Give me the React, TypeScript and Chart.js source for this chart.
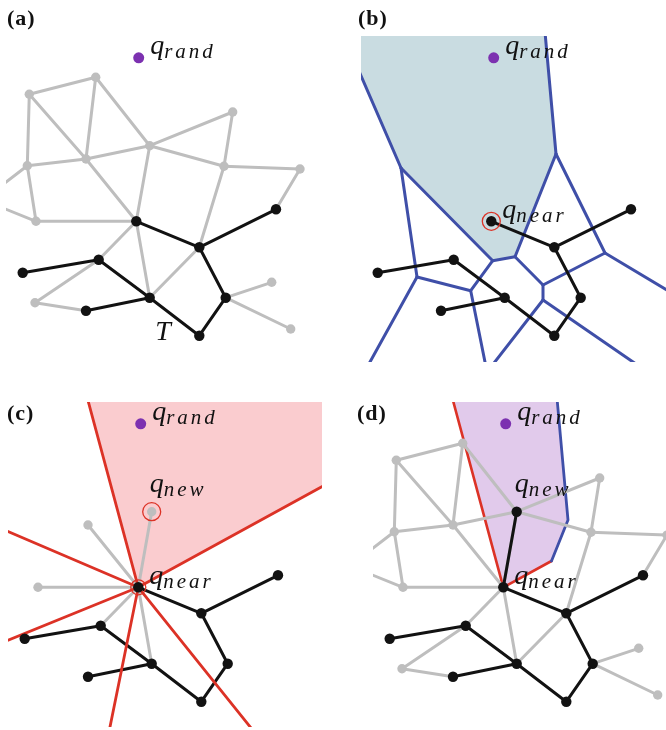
import React, { useEffect, useRef } from 'react';
import { Chart, registerables } from 'chart.js';

Chart.register(...registerables);

// ---------------- data (world frame = panel (a) pixels) ----------------
const roadmapIds = ['g0', 'g1', 'g2', 'g3', 'g4', 'g5', 'g6', 'g7', 'g8', 'g9', 'g10', 'g11', 'g12'];
const roadmapX = [95.7, 29.3, 232.7, 149.7, 86, 27.3, 224, 300, 36, 271.7, 35, 290.7, -17];
const roadmapY = [77.3, 94.3, 112, 145.7, 159, 165.7, 166.3, 169, 221.3, 282.3, 302.7, 329, 200];

const treeIds = ['t0', 't1', 't2', 't3', 't4', 't5', 't6', 't7', 't8'];
const treeX = [136.3, 199.3, 276, 98.7, 22.7, 149.7, 86, 225.7, 199.3];
const treeY = [221.3, 247.3, 209.3, 259.7, 272.7, 297.7, 310.7, 297.7, 335.7];

const roadmapEdgeFrom = ['g1', 'g1', 'g1', 'g0', 'g0', 'g4', 'g4', 'g4', 'g3', 'g3', 'g3', 'g2', 'g6', 'g7', 'g6', 'g5', 'g8', 'g5', 'g8', 't0', 't3', 'g10', 't0', 't1', 't7', 't7'];
const roadmapEdgeTo = ['g0', 'g4', 'g5', 'g4', 'g3', 'g3', 'g5', 't0', 'g2', 'g6', 't0', 'g6', 'g7', 't2', 't1', 'g8', 't0', 'g12', 'g12', 't3', 'g10', 't6', 't5', 't5', 'g9', 'g11'];

const treeEdgeFrom = ['t0', 't1', 't1', 't7', 't8', 't5', 't3', 't5'];
const treeEdgeTo = ['t1', 't2', 't7', 't8', 't5', 't3', 't4', 't6'];

const qRandX = [138.7];
const qRandY = [57.8];
const qNearId = 't0';
const qNewId = 'g3';
const nearNeighbourIds = ['g3', 'g4', 'g8', 't3', 't5'];
const nearNeighbourRoadmapIds = ['g3', 'g4', 'g8'];

// Voronoi diagram of the tree (panel b)
const voronoiIds = ['P1', 'P2', 'P3', 'P4', 'P5', 'P6', 'P7', 'P8', 'P9', 'P10', 'E1', 'E4', 'E5', 'E7', 'E9', 'E10'];
const voronoiX = [46, 137.7, 160, 201, 250, 188, 188, 115.7, 62, 132, -20, 187.1, 350, 310, -0.5, 130];
const voronoiY = [168, 260.7, 256.7, 154, 253, 285, 300, 290.7, 277, 372, 15.7, 0, 312.7, 384, 390, 400];
const voronoiEdgeFrom = ['E4', 'E1', 'P1', 'P2', 'P3', 'P4', 'P5', 'P5', 'P6', 'P6', 'P7', 'P7', 'P8', 'P10', 'P2', 'P8', 'P9', 'P9'];
const voronoiEdgeTo = ['P4', 'P1', 'P2', 'P3', 'P4', 'P5', 'E5', 'P6', 'P7', 'P3', 'E7', 'P10', 'P10', 'E10', 'P8', 'P9', 'P1', 'E9'];
const voronoiCellX = [-20, 187.1, 201, 160, 137.7, 46, -20];
const voronoiCellY = [0, 0, 154, 256.7, 260.7, 168, 15.7];

// Cone boundaries at q_near (panel c)
const coneRayEndX = [76.7, 360, -20, -20, 102.1, 271.5];
const coneRayEndY = [0, 98.6, 154.4, 284.7, 390, 390];
const coneFillX = [136.3, 76.7, 360, 360];
const coneFillY = [221.3, 0, 0, 98.6];

// Intersection region (panel d)
const regionX = [136.3, 76.7, 187.1, 201, 184.5];
const regionY = [221.3, 0, 0, 154, 195];
const regionRedX = [76.7, 136.3, 184.5];
const regionRedY = [0, 221.3, 195];
const regionBlueX = [184.5, 201, 187.1];
const regionBlueY = [195, 154, 0];

// ---------------- styles ----------------
const GRAY = '#bebebe';
const BLACK = '#121212';
const BLUE = '#3f4fa8';
const RED = '#dc3226';
const PURPLE = '#7c31b0';
const CELL = '#c9dce1';
const CONE = '#facccf';
const REGION = '#e1caeb';

type Pt = { x: number; y: number };

const zip = (xs: number[], ys: number[]): Pt[] => xs.map((x, i) => ({ x, y: ys[i] }));

function node(id: string): Pt {
  const i = roadmapIds.indexOf(id);
  if (i >= 0) return { x: roadmapX[i], y: roadmapY[i] };
  const j = treeIds.indexOf(id);
  return { x: treeX[j], y: treeY[j] };
}
function vtx(id: string): Pt {
  const i = voronoiIds.indexOf(id);
  return { x: voronoiX[i], y: voronoiY[i] };
}

const lineDs = (pts: Pt[], color: string, width: number) => ({
  type: 'line',
  data: pts,
  borderColor: color,
  backgroundColor: color,
  borderWidth: width,
  borderCapStyle: 'round',
  borderJoinStyle: 'round',
  pointRadius: 0,
  pointHoverRadius: 0,
  fill: false,
  tension: 0,
  clip: 0,
});
const shapeDs = (pts: Pt[], color: string) => ({
  type: 'line',
  data: pts,
  borderColor: color,
  backgroundColor: color,
  borderWidth: 0,
  pointRadius: 0,
  pointHoverRadius: 0,
  fill: 'shape',
  tension: 0,
  clip: 0,
});
const dotDs = (pts: Pt[], color: string, r: number) => ({
  type: 'line',
  data: pts,
  showLine: false,
  pointRadius: r,
  pointHoverRadius: r,
  pointBackgroundColor: color,
  pointBorderColor: color,
  pointBorderWidth: 0,
  clip: 0,
});
const ringDs = (pts: Pt[], color: string, r: number) => ({
  type: 'line',
  data: pts,
  showLine: false,
  pointRadius: r,
  pointHoverRadius: r,
  pointBackgroundColor: 'rgba(0,0,0,0)',
  pointBorderColor: color,
  pointBorderWidth: 1.3,
  clip: 0,
});

const edgeLines = (from: string[], to: string[], color: string, width: number) =>
  from.map((f, i) => lineDs([node(f), node(to[i])], color, width));

const roadmapGrayEdges = () => edgeLines(roadmapEdgeFrom, roadmapEdgeTo, GRAY, 3);
const treeBlackEdges = () => edgeLines(treeEdgeFrom, treeEdgeTo, BLACK, 3);
const treeDots = () => dotDs(treeIds.map(node), BLACK, 5.2);
const qRandDot = () => dotDs(zip(qRandX, qRandY), PURPLE, 5.5);

// datasets listed bottom -> top
function datasetsA() {
  return [
    ...roadmapGrayEdges(),
    dotDs(roadmapIds.map(node), GRAY, 4.7),
    ...treeBlackEdges(),
    treeDots(),
    qRandDot(),
  ];
}
function datasetsB() {
  return [
    shapeDs(zip(voronoiCellX, voronoiCellY), CELL),
    ...voronoiEdgeFrom.map((f, i) => lineDs([vtx(f), vtx(voronoiEdgeTo[i])], BLUE, 3)),
    ...treeBlackEdges(),
    treeDots(),
    ringDs([node(qNearId)], RED, 9),
    qRandDot(),
  ];
}
function datasetsC() {
  const rays = coneRayEndX.map((x, i) => lineDs([node(qNearId), { x, y: coneRayEndY[i] }], RED, 2.8));
  return [
    shapeDs(zip(coneFillX, coneFillY), CONE),
    ...nearNeighbourIds.map((id) => lineDs([node(qNearId), node(id)], GRAY, 3)),
    ...treeBlackEdges(),
    ...rays,
    dotDs(nearNeighbourRoadmapIds.map(node), GRAY, 4.7),
    treeDots(),
    ringDs([node(qNewId)], RED, 9),
    ringDs([node(qNearId)], RED, 7.5),
    qRandDot(),
  ];
}
function datasetsD() {
  return [
    shapeDs(zip(regionX, regionY), REGION),
    lineDs(zip(regionRedX, regionRedY), RED, 2.6),
    lineDs(zip(regionBlueX, regionBlueY), BLUE, 2.8),
    ...roadmapGrayEdges(),
    dotDs(roadmapIds.filter((id) => id !== qNewId).map(node), GRAY, 4.7),
    ...treeBlackEdges(),
    lineDs([node(qNearId), node(qNewId)], BLACK, 3),
    treeDots(),
    dotDs([node(qNewId)], BLACK, 5.2),
    qRandDot(),
  ];
}

type PanelSpec = {
  left: number;
  top: number;
  xMin: number;
  xMax: number;
  yMin: number;
  yMax: number;
  build: () => any[];
  labels: { kind: 'rand' | 'near' | 'new' | 'T' }[];
};

const panels: PanelSpec[] = [
  { left: 6, top: 36, xMin: 6, xMax: 333, yMin: 36, yMax: 362, build: datasetsA, labels: [{ kind: 'rand' }, { kind: 'T' }] },
  { left: 361, top: 36, xMin: 6, xMax: 311, yMin: 36, yMax: 362, build: datasetsB, labels: [{ kind: 'rand' }, { kind: 'near' }] },
  { left: 8, top: 402, xMin: 6, xMax: 320, yMin: 36, yMax: 361, build: datasetsC, labels: [{ kind: 'rand' }, { kind: 'new' }, { kind: 'near' }] },
  { left: 373, top: 402, xMin: 6, xMax: 299, yMin: 36, yMax: 361, build: datasetsD, labels: [{ kind: 'rand' }, { kind: 'new' }, { kind: 'near' }] },
];

const panelTitles = ['(a)', '(b)', '(c)', '(d)'];
const titleLeft = [7, 358, 7, 357];
const titleBaseline = [25, 25, 420, 420];

const SERIF = '"Liberation Serif", "Times New Roman", serif';
const MAIN = 28;
const SUB = 21;

function MathLabel({ left, baseline, main, sub }: { left: number; baseline: number; main: string; sub?: string }) {
  return (
    <div
      style={{
        position: 'absolute',
        left,
        top: baseline - 0.8375 * MAIN,
        fontFamily: SERIF,
        fontStyle: 'italic',
        fontSize: MAIN,
        lineHeight: `${MAIN}px`,
        whiteSpace: 'nowrap',
        color: '#111',
      }}
    >
      {main}
      {sub ? (
        <span style={{ fontSize: SUB, letterSpacing: '3px', position: 'relative', top: 4 }}>{sub}</span>
      ) : null}
    </div>
  );
}

function Panel({ spec }: { spec: PanelSpec }) {
  const ref = useRef<HTMLCanvasElement | null>(null);
  const w = spec.xMax - spec.xMin;
  const h = spec.yMax - spec.yMin;
  useEffect(() => {
    if (!ref.current) return;
    const ds = spec.build().slice().reverse(); // Chart.js paints dataset 0 last
    const chart = new Chart(ref.current, {
      type: 'line',
      data: { datasets: ds as any },
      options: {
        responsive: false,
        animation: false,
        events: [],
        devicePixelRatio: 1,
        layout: { padding: 0, autoPadding: false },
        plugins: { legend: { display: false }, tooltip: { enabled: false }, title: { display: false } },
        scales: {
          x: { type: 'linear', display: false, min: spec.xMin, max: spec.xMax },
          y: { type: 'linear', display: false, min: spec.yMin, max: spec.yMax, reverse: true },
        },
      } as any,
    });
    return () => chart.destroy();
  }, [spec]);

  const px = (x: number) => x - spec.xMin;
  const py = (y: number) => y - spec.yMin;
  const near = node(qNearId);
  const nw = node(qNewId);
  const tAnchor = node('t8');

  return (
    <div style={{ position: 'absolute', left: spec.left, top: spec.top, width: w, height: h }}>
      <canvas ref={ref} width={w} height={h} style={{ display: 'block', width: w, height: h }} />
      {spec.labels.map((l, i) => {
        if (l.kind === 'rand')
          return <MathLabel key={i} left={px(qRandX[0] + 11.5)} baseline={py(qRandY[0] - 3)} main="q" sub="rand" />;
        if (l.kind === 'near')
          return <MathLabel key={i} left={px(near.x + 11)} baseline={py(near.y - 3)} main="q" sub="near" />;
        if (l.kind === 'new')
          return <MathLabel key={i} left={px(nw.x - 2)} baseline={py(nw.y - 19)} main="q" sub="new" />;
        return <MathLabel key={i} left={px(tAnchor.x - 44)} baseline={py(tAnchor.y + 5)} main="T" />;
      })}
    </div>
  );
}

export default function App() {
  return (
    <div style={{ position: 'absolute', left: 0, top: 0, width: 666, height: 730, background: '#fff', overflow: 'hidden' }}>
      {panels.map((p, i) => (
        <Panel key={i} spec={p} />
      ))}
      {panelTitles.map((t, i) => (
        <div
          key={t}
          style={{
            position: 'absolute',
            left: titleLeft[i],
            top: titleBaseline[i] - 0.8375 * 22,
            fontFamily: SERIF,
            fontWeight: 'bold',
            fontSize: 22,
            lineHeight: '22px',
            letterSpacing: '1px',
            color: '#111',
          }}
        >
          {t}
        </div>
      ))}
    </div>
  );
}
